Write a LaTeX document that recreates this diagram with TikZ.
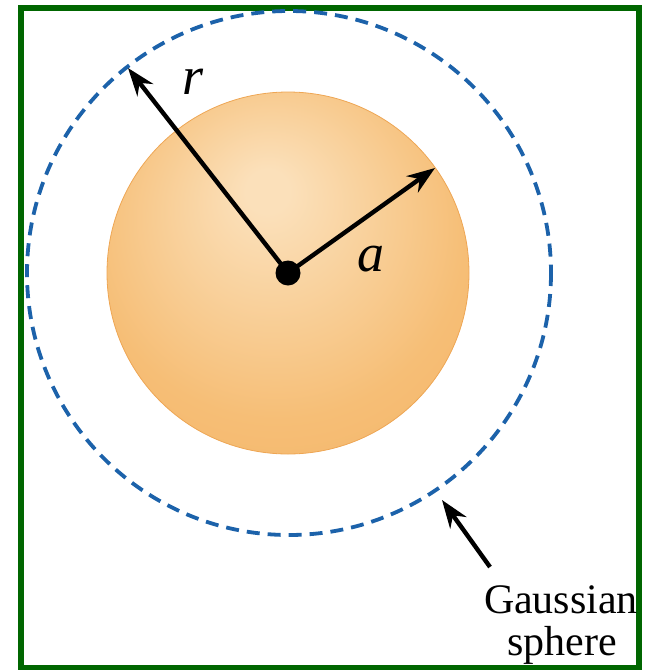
\documentclass[tikz,border=0pt]{standalone}
\usepackage{fontspec}
\setmainfont{Liberation Serif}
\usepackage{tikz}
\usepackage{xcolor}
\usetikzlibrary{arrows.meta,positioning,calc}

\definecolor{framegreen}{RGB}{0,102,0}
\definecolor{gaussblue}{RGB}{28,98,170}
\definecolor{spherein}{RGB}{251,224,186}
\definecolor{spheremid}{RGB}{246,190,118}
\definecolor{sphereout}{RGB}{242,172,90}
\definecolor{sphererim}{RGB}{238,166,84}
\pgfdeclareradialshading{spherelight}{\pgfpoint{-3bp}{12bp}}{color(0bp)=(spherein); color(3bp)=(spherein); color(26bp)=(spheremid); color(50bp)=(sphereout)}

\tikzset{
    vec/.style={line width=2.2pt, -{Stealth[length=14pt, width=10pt]}},
    lbl/.style={font=\fontsize{27}{27}\selectfont\itshape, inner sep=0pt},
    caption/.style={font=\fontsize{21}{21}\selectfont, inner sep=0pt, anchor=base}
}

\begin{document}
\begin{tikzpicture}[x=0.5pt, y=-0.5pt]
    \useasboundingbox (0,0) rectangle (644,670);
    \draw[framegreen, line width=3pt] (21,8) rectangle (639,668);

    \shade[shading=spherelight, draw=sphererim, line width=0.4pt] (288,273) circle (181);
    \draw[gaussblue, line width=1.9pt, dash pattern=on 6.5pt off 4pt] (289,273) circle (262);

    \node[circle, fill=black, inner sep=0pt, minimum size=12.5pt] (O) at (288,273) {};
    \coordinate (rtip) at (128,68);
    \coordinate (atip) at (435,168);
    \draw[vec] (O.center) -- (rtip);
    \draw[vec] (O.center) -- (atip);
    \node[lbl] (r) at (193,82) {r};
    \node[lbl] (a) at (371,259) {a};

    \node[caption] (gauss) at (561,613) {Gaussian};
    \node[caption] (sph) at (562,655) {sphere};
    \coordinate (gtail) at (490,567);
    \coordinate (gtip) at (442,500);
    \draw[vec] (gtail) -- (gtip);
\end{tikzpicture}
\end{document}
